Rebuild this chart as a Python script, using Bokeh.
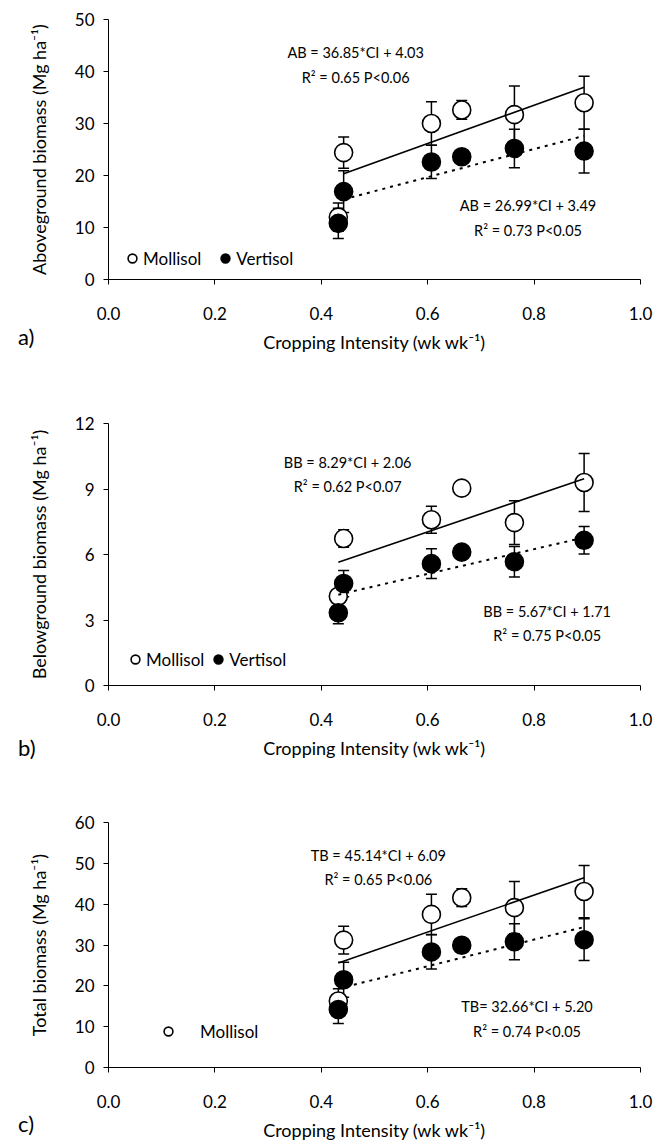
import numpy as np
from bokeh.plotting import figure
from bokeh.models import (ColumnDataSource, Whisker, TeeHead, Range1d, FixedTicker,
                          Legend, LegendItem, Label, NumeralTickFormatter, Div)
from bokeh.layouts import column
from bokeh.embed import file_html
from bokeh.resources import INLINE

FONT = "Lato"

# ---------------- data ----------------
ci = [0.432, 0.442, 0.607, 0.664, 0.763, 0.894]          # cropping intensity (wk wk-1)
x_ticks = [0.0, 0.2, 0.4, 0.6, 0.8, 1.0]

# a) aboveground biomass (Mg ha-1)
ab_moll = [12.0, 24.4, 30.0, 32.6, 31.7, 34.0]
ab_moll_se = [2.7, 3.0, 4.2, 1.8, 5.5, 5.1]
ab_vert = [10.8, 16.9, 22.6, 23.6, 25.2, 24.7]
ab_vert_se = [2.9, 4.0, 3.2, 0.8, 3.7, 4.2]
ab_yticks = [0, 10, 20, 30, 40, 50]

# b) belowground biomass (Mg ha-1)
bb_moll = [4.09, 6.73, 7.59, 9.04, 7.46, 9.30]
bb_moll_se = [0.3, 0.4, 0.62, 0.3, 1.0, 1.33]
bb_vert = [3.33, 4.67, 5.58, 6.11, 5.67, 6.65]
bb_vert_se = [0.5, 0.6, 0.68, 0.3, 0.7, 0.63]
bb_yticks = [0, 3, 6, 9, 12]

# c) total biomass (Mg ha-1)
tb_moll = [16.3, 31.2, 37.5, 41.6, 39.15, 43.1]
tb_moll_se = [3.0, 3.4, 4.9, 2.2, 6.4, 6.4]
tb_vert = [14.2, 21.5, 28.3, 29.95, 30.8, 31.3]
tb_vert_se = [3.4, 4.3, 4.2, 0.8, 4.4, 5.1]
tb_yticks = [0, 10, 20, 30, 40, 50, 60]

# regression lines (Mollisol solid, Vertisol dotted)
moll_slope = [36.85, 8.29, 45.14]
moll_intercept = [4.03, 2.06, 6.09]
vert_slope = [26.99, 5.67, 32.66]
vert_intercept = [3.49, 1.71, 5.20]
line_x_start = [0.442, 0.432, 0.432]
line_x_end = [0.894, 0.894, 0.894]

eq_upper = ["AB = 36.85*CI + 4.03", "BB = 8.29*CI + 2.06", "TB = 45.14*CI + 6.09"]
r2_upper = ["R\u00b2 = 0.65 P<0.06", "R\u00b2 = 0.62 P<0.07", "R\u00b2 = 0.65 P<0.06"]
eq_lower = ["AB = 26.99*CI + 3.49", "BB = 5.67*CI + 1.71", "TB= 32.66*CI + 5.20"]
r2_lower = ["R\u00b2 = 0.73 P<0.05", "R\u00b2 = 0.75 P<0.05", "R\u00b2 = 0.74 P<0.05"]

y_labels = ["Aboveground biomass (Mg ha\u207b\u00b9)",
            "Belowground biomass (Mg ha\u207b\u00b9)",
            "Total biomass (Mg ha\u207b\u00b9)"]
x_label = "Cropping Intensity (wk wk\u207b\u00b9)"
panel_tags = ["a)", "b)", "c)"]

# ---------------- layout per panel ----------------
layouts = [
    dict(top=19, fh=260, bottom=91, ymax=50, yticks=ab_yticks,
         up=(0.4646, 43.65, 38.85), lo=(0.7886, 14.15, 9.35),
         leg=(13, 10), leg_spacing=13, leg_standoff=0, leg_items=2, tag_top=319),
    dict(top=53, fh=262, bottom=90, ymax=12, yticks=bb_yticks,
         up=(0.4496, 10.21, 9.10), lo=(0.8246, 3.38, 2.27),
         leg=(16, 15), leg_spacing=3, leg_standoff=0, leg_items=2, tag_top=730),
    dict(top=47, fh=245, bottom=76, ymax=60, yticks=tb_yticks,
         up=(0.5072, 51.93, 46.0), lo=(0.7867, 14.86, 8.75),
         leg=(49, 25), leg_spacing=5, leg_standoff=21, leg_items=1, tag_top=1106),
]

series = [
    (ab_moll, ab_moll_se, ab_vert, ab_vert_se),
    (bb_moll, bb_moll_se, bb_vert, bb_vert_se),
    (tb_moll, tb_moll_se, tb_vert, tb_vert_se),
]


def style_axis(ax):
    ax.axis_line_color = "black"
    ax.axis_line_width = 1
    ax.major_tick_line_color = "black"
    ax.major_tick_line_width = 1
    ax.major_tick_in = 0
    ax.major_tick_out = 5
    ax.minor_tick_line_color = None
    ax.major_label_text_font = FONT
    ax.major_label_text_font_size = "17px"
    ax.major_label_text_color = "black"
    ax.axis_label_text_font = FONT
    ax.axis_label_text_font_size = "18px"
    ax.axis_label_text_font_style = "normal"
    ax.axis_label_text_color = "black"


def make_panel(i):
    L = layouts[i]
    moll, moll_se, vert, vert_se = series[i]
    p = figure(frame_width=532, frame_height=L["fh"],
               min_border_left=108, min_border_right=22,
               min_border_top=L["top"], min_border_bottom=L["bottom"],
               x_range=Range1d(0, 1), y_range=Range1d(0, L["ymax"]),
               output_backend="svg", toolbar_location=None)
    p.xgrid.visible = False
    p.ygrid.visible = False
    p.outline_line_color = None
    p.background_fill_color = "white"

    p.xaxis.ticker = FixedTicker(ticks=x_ticks)
    p.xaxis.formatter = NumeralTickFormatter(format="0.0")
    p.yaxis.ticker = FixedTicker(ticks=L["yticks"])
    for ax in (p.xaxis[0], p.yaxis[0]):
        style_axis(ax)
    p.xaxis.axis_label = x_label
    p.xaxis.major_label_standoff = 22
    p.xaxis.axis_label_standoff = 8
    p.yaxis.axis_label = y_labels[i]
    p.yaxis.major_label_standoff = 9
    p.yaxis.axis_label_standoff = 22

    m = np.array(moll)
    ms = np.array(moll_se)
    v = np.array(vert)
    vs = np.array(vert_se)
    src_m = ColumnDataSource(dict(x=ci, y=moll, lo=(m - ms).tolist(), hi=(m + ms).tolist()))
    src_v = ColumnDataSource(dict(x=ci, y=vert, lo=(v - vs).tolist(), hi=(v + vs).tolist()))

    for src in (src_m, src_v):
        w = Whisker(source=src, base="x", lower="lo", upper="hi",
                    line_color="black", line_width=1.5,
                    upper_head=TeeHead(size=11, line_color="black", line_width=1.5),
                    lower_head=TeeHead(size=11, line_color="black", line_width=1.5))
        p.add_layout(w)

    r_m = p.scatter("x", "y", source=src_m, marker="circle", size=18,
                    fill_color="white", line_color="black", line_width=1.6)
    r_v = p.scatter("x", "y", source=src_v, marker="circle", size=18,
                    fill_color="black", line_color="black", line_width=1.6)

    xs = np.array([line_x_start[i], line_x_end[i]])
    p.line(xs, moll_slope[i] * xs + moll_intercept[i], line_color="black", line_width=1.6)
    p.line(xs, vert_slope[i] * xs + vert_intercept[i], line_color="black", line_width=2,
           line_dash="3 5")

    for (xc, y1, y2), t1, t2 in ((L["up"], eq_upper[i], r2_upper[i]),
                                 (L["lo"], eq_lower[i], r2_lower[i])):
        for yy, tt in ((y1, t1), (y2, t2)):
            p.add_layout(Label(x=xc, y=yy, text=tt, text_align="center",
                               text_baseline="middle", text_font=FONT,
                               text_font_size="14.5px", text_color="black"))

    items = [LegendItem(label="Mollisol", renderers=[r_m])]
    if L["leg_items"] == 2:
        items.append(LegendItem(label="Vertisol", renderers=[r_v]))
    leg = Legend(items=items, location=L["leg"], orientation="horizontal",
                 glyph_width=22, glyph_height=22, label_standoff=L["leg_standoff"],
                 spacing=L["leg_spacing"], padding=0, margin=0,
                 border_line_color=None, background_fill_alpha=0,
                 label_text_font=FONT, label_text_font_size="17px",
                 label_text_color="black", label_height=22)
    p.add_layout(leg)
    return p


def make_tag(i):
    L = layouts[i]
    return Div(text=panel_tags[i], width=30, height=26,
               styles={"position": "absolute", "left": "13px",
                       "top": "%dpx" % L["tag_top"],
                       "font-family": FONT, "font-size": "22px",
                       "line-height": "26px", "color": "black"})


panels = [make_panel(i) for i in range(3)]
tags = [make_tag(i) for i in range(3)]
layout = column(*panels, *tags, spacing=0)
open("out.html", "w").write(file_html(layout, INLINE))
